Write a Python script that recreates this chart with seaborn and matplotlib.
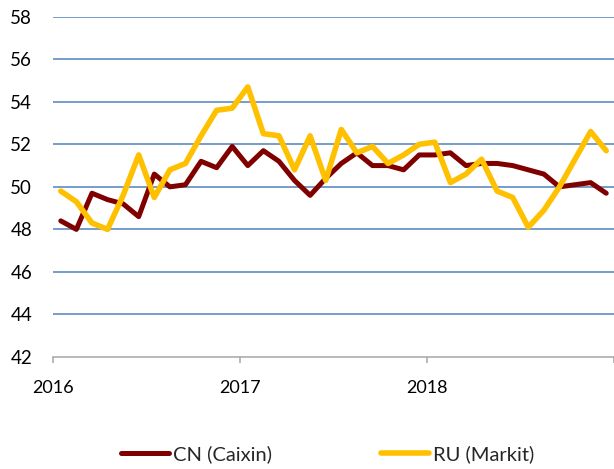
import numpy as np
import pandas as pd
import matplotlib
matplotlib.use("Agg")
import matplotlib.pyplot as plt
import seaborn as sns

# Monthly PMI, Jan 2016 - Dec 2018
cn_caixin = [48.4, 48.0, 49.7, 49.4, 49.2, 48.6, 50.6, 50.0, 50.1, 51.2, 50.9, 51.9,
             51.0, 51.7, 51.2, 50.3, 49.6, 50.4, 51.1, 51.6, 51.0, 51.0, 50.8, 51.5,
             51.5, 51.6, 51.0, 51.1, 51.1, 51.0, 50.8, 50.6, 50.0, 50.1, 50.2, 49.7]
ru_markit = [49.8, 49.3, 48.3, 48.0, 49.6, 51.5, 49.5, 50.8, 51.1, 52.4, 53.6, 53.7,
             54.7, 52.5, 52.4, 50.8, 52.4, 50.3, 52.7, 51.6, 51.9, 51.1, 51.5, 52.0,
             52.1, 50.2, 50.6, 51.3, 49.8, 49.5, 48.1, 48.9, 50.0, 51.3, 52.6, 51.7]
year_labels = ["2016", "2017", "2018"]
series_names = ["CN (Caixin)", "RU (Markit)"]
y_ticks = [42, 44, 46, 48, 50, 52, 54, 56, 58]

sns.set_theme(style="white")
plt.rcParams["font.family"] = ["Lato", "DejaVu Sans"]

n = len(cn_caixin)
month_pos = np.arange(n) + 0.5
df = pd.DataFrame({"pos": month_pos, series_names[0]: cn_caixin, series_names[1]: ru_markit})

fig = plt.figure(figsize=(6.14, 4.69), dpi=100)
ax = fig.add_axes([53/614, 1 - 357/469, 1 - 53/614, (357 - 16.7)/469])

for yv in y_ticks[1:]:
    ax.axhline(yv, color="#4F81BD", lw=1.1, zorder=1)

sns.lineplot(data=df, x="pos", y=series_names[0], ax=ax, color="#800000", lw=3.6,
             label=series_names[0], zorder=3, solid_capstyle="round", solid_joinstyle="round")
sns.lineplot(data=df, x="pos", y=series_names[1], ax=ax, color="#FFC000", lw=4.0,
             label=series_names[1], zorder=4, solid_capstyle="round", solid_joinstyle="round")

ax.set_xlim(0, n)
ax.set_ylim(42, 58)
ax.set_yticks(y_ticks)
ax.set_yticklabels([str(v) for v in y_ticks])
ax.set_xticks([0, 12, 24, 36])
ax.set_xticklabels(year_labels + [""])
ax.set_xlabel("")
ax.set_ylabel("")

for s in ["top", "right", "left"]:
    ax.spines[s].set_visible(False)
ax.spines["bottom"].set_color("#A6A6A6")
ax.spines["bottom"].set_linewidth(1.1)
ax.tick_params(axis="x", which="major", direction="out", length=4.3, width=1.1,
               color="#A6A6A6", pad=12, labelsize=13, labelcolor="#000000", bottom=True)
ax.tick_params(axis="y", length=0, pad=15, labelsize=13.5, labelcolor="#000000")

ax.get_legend().remove()
handles, labels = ax.get_legend_handles_labels()
for h in handles:
    h.set_solid_capstyle("round")
fig.legend(handles, labels, loc="center", bbox_to_anchor=(327.5/614, 1 - 454/469),
           ncol=2, frameon=False, fontsize=14.5, handlelength=2.4, handletextpad=0.2,
           columnspacing=5.4, borderaxespad=0)

fig.savefig("out.png", dpi=100)
